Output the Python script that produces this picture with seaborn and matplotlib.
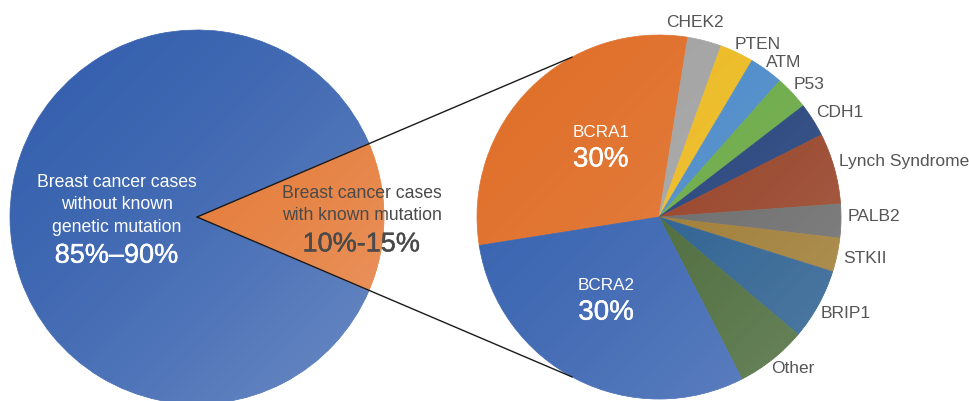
import numpy as np
import matplotlib.pyplot as plt
import matplotlib.patheffects as pe
import seaborn as sns
from matplotlib.patches import Circle
from matplotlib.offsetbox import TextArea, VPacker, AnnotationBbox

sns.set_theme(style="white")
plt.rcParams['font.family'] = ['Liberation Sans', 'DejaVu Sans']

# left pie: all breast cancer cases
overall_names = [["Breast cancer cases", "with known mutation"],
                 ["Breast cancer cases", "without known", "genetic mutation"]]
overall_ranges = ["10%-15%", "85%\u201390%"]
overall_share = [13, 87]
overall_colors = ["#E3732D", "#3560AE"]
overall_text = ["#4a4a4a", "white"]

# right pie: breakdown of the known mutations
gene_names = ["BCRA1", "CHEK2", "PTEN", "ATM", "P53", "CDH1", "Lynch Syndrome",
              "PALB2", "STKII", "BRIP1", "Other", "BCRA2"]
gene_share = [30, 3, 3, 3, 3, 3, 6.3, 3, 3, 6.3, 6.3, 30]
gene_inside = ["30%", None, None, None, None, None, None, None, None, None, None, "30%"]
gene_colors = ["#E0702A", "#A3A3A3", "#ECBA22", "#4B8AC9", "#69A844", "#213F78",
               "#943E22", "#676767", "#9C782E", "#245A8C", "#456634", "#3762B0"]

fig, ax = plt.subplots(figsize=(9.7, 4.01), dpi=100)
fig.subplots_adjust(0, 0, 1, 1)

c1, r1 = (197, 184), 187
c2, r2 = (659, 184), 182


def shade(center, radius, strength):
    n = 256
    xs = np.linspace(-1, 1, n)
    gx, gy = np.meshgrid(xs, xs)
    t = (gx - gy + 2) / 4
    img = np.ones((n, n, 4))
    img[..., 3] = strength * t ** 1.6
    cx, cy = center
    im = ax.imshow(img, extent=(cx - radius, cx + radius, cy - radius, cy + radius),
                   origin='lower', zorder=2, interpolation='bilinear')
    im.set_clip_path(Circle(center, radius, transform=ax.transData))


def block(xy, lines, value, color, small, big):
    rows = [TextArea(s, textprops=dict(color=color, fontsize=small)) for s in lines]
    names = VPacker(children=rows, align='center', pad=0, sep=4)
    num = TextArea(value, textprops=dict(
        color=color, fontsize=big,
        path_effects=[pe.withStroke(linewidth=0.3, foreground=color)]))
    box = VPacker(children=[names, num], align='center', pad=0, sep=5)
    ab = AnnotationBbox(box, xy, xybox=(0, -3), boxcoords='offset points',
                        frameon=False, box_alignment=(0.5, 0.5), zorder=4)
    ax.add_artist(ab)


wedges1, _ = ax.pie(overall_share, colors=overall_colors, startangle=-23.4,
                    center=c1, radius=r1, wedgeprops=dict(linewidth=0.5))
shade(c1, r1, 0.28)

wedges2, _ = ax.pie(gene_share, colors=gene_colors, startangle=189, counterclock=False,
                    center=c2, radius=r2, wedgeprops=dict(linewidth=0.5))
shade(c2, r2, 0.22)

for w in list(wedges1) + list(wedges2):
    w.set_edgecolor(w.get_facecolor())

# labels inside the left pie
left_dist = [0.88, 0.43]
for w, name, val, col, d in zip(wedges1, overall_names, overall_ranges, overall_text, left_dist):
    a = np.deg2rad((w.theta1 + w.theta2) / 2)
    xy = (c1[0] + d * r1 * np.cos(a), c1[1] + d * r1 * np.sin(a))
    block(xy, name, val, col, 12.7, 19.5)

# labels for the right pie
for w, name, val in zip(wedges2, gene_names, gene_inside):
    mid = (w.theta1 + w.theta2) / 2
    if mid > 180:
        mid -= 360
    if val is not None:
        a = np.deg2rad(mid - 7)
        xy = (c2[0] + 0.52 * r2 * np.cos(a), c2[1] + 0.52 * r2 * np.sin(a) - 2)
        block(xy, [name], val, "white", 12.3, 20)
    else:
        if mid > -5:
            shift = 1.5
        elif mid > -20:
            shift = -0.5
        else:
            shift = -2.0
        a = np.deg2rad(mid + shift)
        d = 1.035
        xy = (c2[0] + d * r2 * np.cos(a), c2[1] + d * r2 * np.sin(a))
        if np.cos(a) < 0.3:
            ha, va = 'center', 'bottom'
            xy = (xy[0] - 6, xy[1] + 3)
        else:
            ha, va = 'left', 'center'
        ax.text(xy[0], xy[1], name, ha=ha, va=va, fontsize=12.5, color="#555555", zorder=4)

# connector lines from the left pie centre to the right pie edge
for ang in [118.5, 241.5]:
    a = np.deg2rad(ang)
    end = (c2[0] + r2 * np.cos(a), c2[1] + r2 * np.sin(a))
    ax.plot([c1[0], end[0]], [c1[1], end[1]], color="#1a1a1a", lw=1.0, zorder=3)

ax.set_xlim(0, 970)
ax.set_ylim(0, 401)
ax.set_aspect('equal')
ax.axis('off')

plt.savefig("out.png", dpi=100)
plt.close()
